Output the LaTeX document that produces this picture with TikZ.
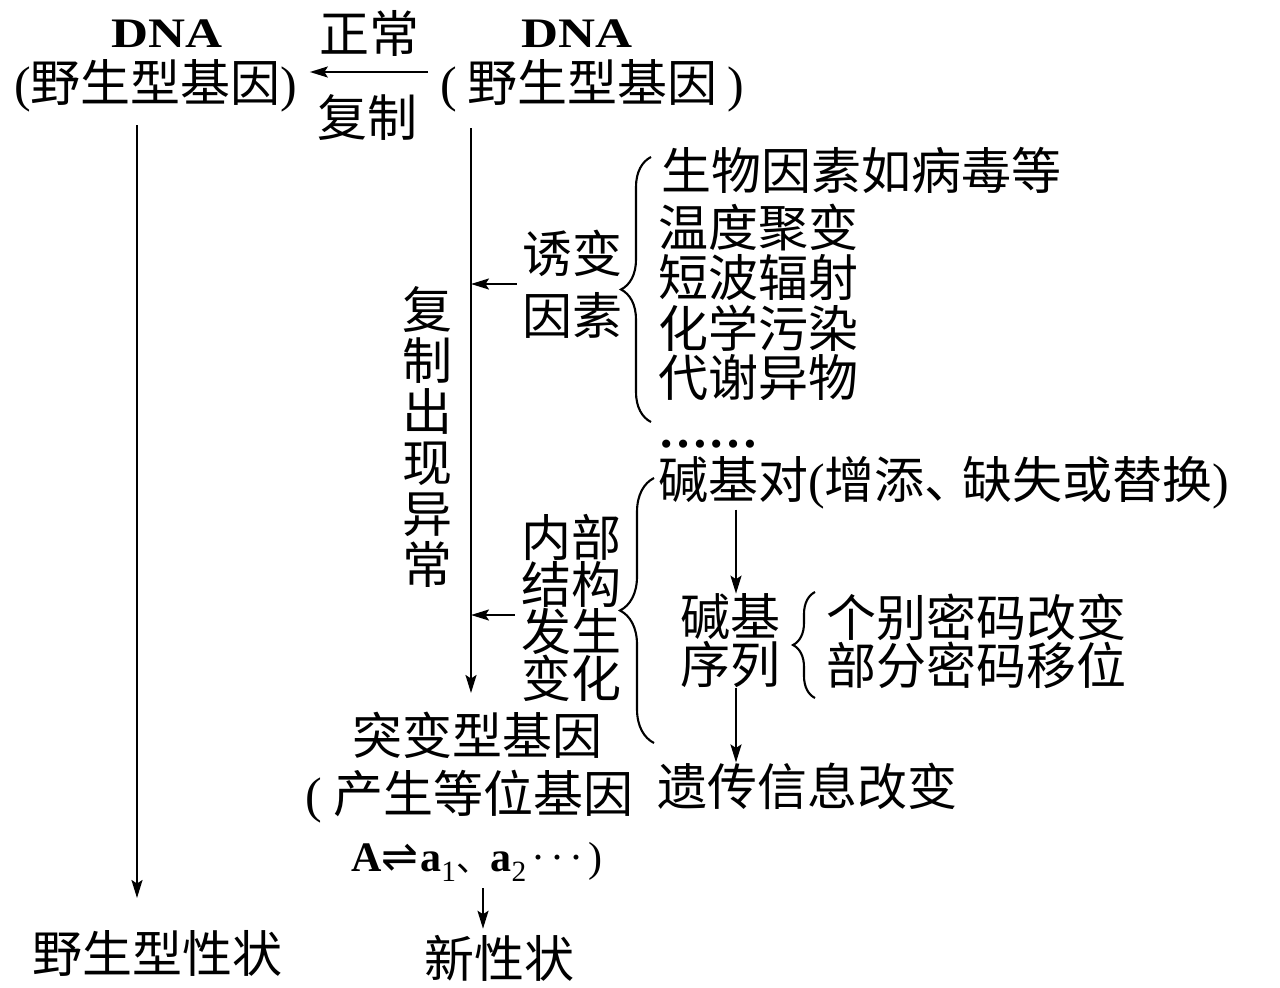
\documentclass[tikz,border=0pt]{standalone}
\usepackage{fontspec}
\usepackage{graphicx}
\setmainfont{Liberation Serif}
\newfontfamily\cjk{Noto Sans CJK SC}
\newfontfamily\symfont{DejaVu Sans}
\usetikzlibrary{arrows.meta,decorations.pathreplacing}
\begin{document}
\begin{tikzpicture}[x=1pt,y=-1pt,
  cn/.style={font=\cjk\fontsize{50}{50}\selectfont, inner sep=0pt},
  cnl/.style={cn, anchor=west},
  stack/.style={cn, align=center, font={\cjk\fontsize{50}{#1}\selectfont\lineskiplimit=-100pt}},
  lat/.style={font=\bfseries\fontsize{42}{42}\selectfont, inner sep=0pt},
  arr/.style={line width=2.1pt, -{Stealth[length=18pt,width=11pt,inset=3.5pt]}},
  brc/.style={line width=2.1pt, decorate, decoration={brace, amplitude=#1}},
]
\fill[white] (0,0) rectangle (1280,988);
\useasboundingbox (0,0) rectangle (1280,988);

% top row
\node[lat] (dnaL) at (167,34) {\scalebox{1.22}[1]{DNA}};
\node[cn] (wtL) at (156,86) {{\rmfamily(}野生型基因{\rmfamily)}};
\node[cn] (zc) at (369,33) {正常};
\node[cn] (fz) at (367,117) {复制};
\node[lat] (dnaR) at (577,34) {\scalebox{1.22}[1]{DNA}};
\node[cn] (wtR) at (592,86) {{\rmfamily(}\hspace{10pt}野生型基因\hspace{10pt}{\rmfamily)}};

% left column
\node[cn] (yssx) at (157,953) {野生型性状};

% middle
\node[stack=51] (fcyc) at (427,437) {复\\制\\出\\现\\异\\常};
\node[stack=62] (yb) at (572,284) {诱变\\因素};
\node[stack=47] (nb) at (571,608) {内部\\结构\\发生\\变化};

% factor list
\node[cnl] (l1) at (661,170) {生物因素如病毒等};
\node[cnl] (l2) at (658,228) {温度聚变};
\node[cnl] (l3) at (658,278) {短波辐射};
\node[cnl] (l4) at (658,328) {化学污染};
\node[cnl] (l5) at (658,378) {代谢异物};
\node[anchor=base west, inner sep=0pt, font=\bfseries\fontsize{50}{50}\selectfont] (dots) at (658,447) {……};

% internal change
\node[cnl] (jjd) at (658,483) {碱基对{\rmfamily(}增添{\cjk 、}\hspace{-12pt}缺失或替换{\rmfamily)}};
\node[stack=48] (jjxl) at (730,641) {碱基\\序列};
\node[cnl] (gb) at (826,617) {个别密码改变};
\node[cnl] (bf) at (826,665) {部分密码移位};
\node[cnl] (yc) at (657,786) {遗传信息改变};

% mutant gene
\node[cn] (tb) at (477,735) {突变型基因};
\node[cnl] (cs) at (305,797) {{\rmfamily(}\hspace{12pt}产生等位基因};
\node[anchor=base west, inner sep=0pt, font=\fontsize{42}{42}\selectfont] (al) at (351,871)
  {\textbf{A}{\symfont\fontsize{44}{44}\selectfont ⇌}\hspace{2pt}\textbf{a}\textsubscript{1}{\cjk\fontsize{34}{34}\selectfont 、}\textbf{a}\textsubscript{2}\hspace{5pt}·\hspace{5pt}·\hspace{5pt}·\hspace{5pt})};
\node[cn] (xxz) at (499,958) {新性状};

% helper coordinates
\coordinate (lt) at (137,125);
\coordinate (lb) at (137,898);
\coordinate (rt) at (471,128);
\coordinate (rb) at (471,693);
\coordinate (ax) at (736,0);
\coordinate (sx) at (483,0);

% connectors
\draw[arr] ([xshift=-12pt,yshift=14pt]wtR.west) -- ([xshift=12pt,yshift=14pt]wtL.east);
\draw[arr] (lt) -- (lb);
\draw[arr] (rt) -- (rb);
\draw[arr] ([xshift=-5pt]yb.west) -- (yb.west -| rt);
\draw[arr] ([xshift=-6pt,yshift=-7pt]nb.west) -- ([yshift=-7pt]nb.west -| rt);
\draw[arr] (jjd.south -| ax) -- (jjxl.north -| ax);
\draw[arr] (jjxl.south -| ax) -- (yc.north -| ax);
\draw[arr] ([yshift=-6pt]al.south -| sx) -- ([yshift=6pt]xxz.north -| sx);

% braces
\draw[brc=30pt] (651,422) -- (651,157);
\draw[brc=34pt] (654,743) -- (654,478);
\draw[brc=22pt] (815,698) -- (815,592);
\end{tikzpicture}
\end{document}
